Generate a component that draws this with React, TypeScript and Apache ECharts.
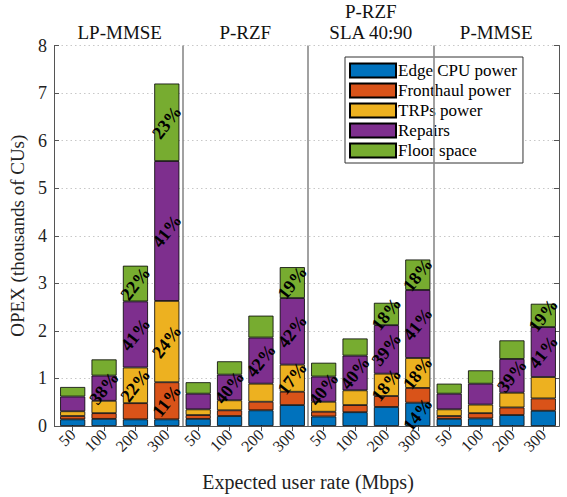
import React, { useEffect, useRef } from "react";
import * as echarts from "echarts";

// Precoding schemes (one group of four bars each) and user rates
const schemes = ["LP-MMSE", "P-RZF", "P-RZF\nSLA 40:90", "P-MMSE"];
const rates = ["50", "100", "200", "300"];

// OPEX components in thousands of CUs, 16 bars: scheme-major, rate-minor
const edgeCpu = [0.14, 0.15, 0.14, 0.14, 0.15, 0.21, 0.33, 0.44, 0.2, 0.29, 0.4, 0.49, 0.15, 0.16, 0.23, 0.32];
const fronthaul = [0.07, 0.12, 0.34, 0.78, 0.08, 0.12, 0.18, 0.28, 0.1, 0.15, 0.23, 0.31, 0.06, 0.11, 0.16, 0.26];
const trps = [0.1, 0.26, 0.75, 1.71, 0.12, 0.21, 0.38, 0.57, 0.21, 0.31, 0.47, 0.63, 0.14, 0.18, 0.31, 0.45];
const repairs = [0.31, 0.53, 1.39, 2.94, 0.33, 0.54, 0.97, 1.4, 0.53, 0.73, 1.02, 1.43, 0.33, 0.44, 0.71, 1.05];
const floorSpace = [0.2, 0.34, 0.75, 1.63, 0.24, 0.28, 0.46, 0.65, 0.29, 0.36, 0.47, 0.64, 0.21, 0.28, 0.39, 0.49];

const yTicks = [0, 1, 2, 3, 4, 5, 6, 7, 8];

const components = [
  { name: "Edge CPU power", data: edgeCpu, color: "#0072BD" },
  { name: "Fronthaul power", data: fronthaul, color: "#D95319" },
  { name: "TRPs power", data: trps, color: "#EDB120" },
  { name: "Repairs", data: repairs, color: "#7E2F8E" },
  { name: "Floor space", data: floorSpace, color: "#77AC30" },
];

// segments at least this tall get their share printed on them
const LABEL_MIN = 0.47;

const FONT = "Times New Roman, Liberation Serif, DejaVu Serif, serif";
const AXIS_COLOR = "#555555";

export default function App() {
  const ref = useRef<HTMLDivElement>(null);

  useEffect(() => {
    if (!ref.current) return;
    const chart = echarts.init(ref.current, null, { renderer: "svg" });

    const nBars = schemes.length * rates.length;
    const barIdx = Array.from({ length: nBars }, (_, i) => i);
    const categories = barIdx.map((i) => rates[i % rates.length]);
    const totals = barIdx.map((i) => components.reduce((s, c) => s + c.data[i], 0));
    // positions on the top (continuous) axis: bar i sits at i + 1
    const topTicks = barIdx.map((i) => i + 1);
    const groupCenters = schemes.map((_, g) => g * rates.length + (rates.length + 1) / 2);
    const separators = schemes.slice(1).map((_, g) => (g + 1) * rates.length + 0.5);

    const series: any[] = components.map((c) => ({
      name: c.name,
      type: "bar",
      stack: "opex",
      xAxisIndex: 0,
      yAxisIndex: 0,
      barWidth: "80%",
      itemStyle: { color: c.color, borderColor: "#000", borderWidth: 0.8 },
      label: {
        show: false,
        position: "inside",
        rotate: 52,
        color: "#000",
        fontFamily: FONT,
        fontWeight: "bold",
        fontSize: 18,
        formatter: (p: any) => Math.round((p.value / totals[p.dataIndex]) * 100) + "%",
      },
      data: c.data.map((v) => ({ value: v, label: { show: v >= LABEL_MIN } })),
    }));

    // group separators, drawn against the continuous top axis
    series.push({
      type: "line",
      xAxisIndex: 1,
      yAxisIndex: 0,
      data: [],
      silent: true,
      markLine: {
        silent: true,
        symbol: "none",
        label: { show: false },
        lineStyle: { color: "#8a8a8a", width: 1.6, type: "solid" },
        data: separators.map((x) => ({ xAxis: x })),
      },
    });

    const option: any = {
      animation: false,
      backgroundColor: "#fff",
      textStyle: { fontFamily: FONT },
      grid: { left: 57, right: 8, top: 45.5, bottom: 70, containLabel: false },
      legend: {
        orient: "vertical",
        left: 345,
        top: 57,
        icon: "rect",
        itemWidth: 46,
        itemHeight: 14,
        itemGap: 3,
        padding: [5, 6, 4, 4],
        backgroundColor: "#fff",
        borderColor: "#333",
        borderWidth: 1,
        borderRadius: 0,
        textStyle: {
          fontFamily: FONT,
          fontSize: 17,
          color: "#000",
          padding: [0, 0, 0, -3],
        },
        data: components.map((c) => c.name),
      },
      xAxis: [
        {
          type: "category",
          position: "bottom",
          data: categories,
          name: "Expected user rate (Mbps)",
          nameLocation: "middle",
          nameGap: 46,
          nameTextStyle: { fontFamily: FONT, fontSize: 20, color: "#222" },
          axisLine: { show: true, lineStyle: { color: AXIS_COLOR, width: 1 } },
          axisTick: {
            show: true,
            inside: true,
            length: 5,
            alignWithLabel: true,
            lineStyle: { color: AXIS_COLOR },
          },
          axisLabel: {
            show: true,
            interval: 0,
            rotate: 45,
            margin: 6,
            fontFamily: FONT,
            fontSize: 16,
            color: "#222",
          },
          splitLine: { show: false },
        },
        {
          type: "value",
          position: "top",
          min: 0.5,
          max: nBars + 0.5,
          axisLine: { show: true, lineStyle: { color: AXIS_COLOR, width: 1 } },
          axisTick: {
            show: true,
            inside: true,
            length: 5,
            customValues: topTicks,
            lineStyle: { color: AXIS_COLOR },
          },
          axisLabel: {
            show: true,
            customValues: groupCenters,
            margin: 3,
            fontFamily: FONT,
            fontSize: 19,
            lineHeight: 21,
            color: "#111",
            formatter: (v: number) =>
              schemes[Math.round((v - (rates.length + 1) / 2) / rates.length)],
          },
          splitLine: { show: false },
        },
      ],
      yAxis: [
        {
          type: "value",
          min: yTicks[0],
          max: yTicks[yTicks.length - 1],
          interval: 1,
          offset: 3,
          name: "OPEX (thousands of CUs)",
          nameLocation: "middle",
          nameGap: 24,
          nameTextStyle: { fontFamily: FONT, fontSize: 19, color: "#222" },
          axisLine: { show: true, lineStyle: { color: AXIS_COLOR, width: 1 } },
          axisTick: { show: true, inside: true, length: 5, lineStyle: { color: AXIS_COLOR } },
          axisLabel: { fontFamily: FONT, fontSize: 18, color: "#222", margin: 7 },
          splitLine: {
            show: true,
            lineStyle: { color: "#c8c8c8", type: [1.5, 3], width: 1 },
          },
        },
        {
          type: "value",
          position: "right",
          min: yTicks[0],
          max: yTicks[yTicks.length - 1],
          interval: 1,
          axisLine: { show: true, lineStyle: { color: AXIS_COLOR, width: 1 } },
          axisTick: { show: true, inside: true, length: 5, lineStyle: { color: AXIS_COLOR } },
          axisLabel: { show: false },
          splitLine: { show: false },
        },
      ],
      series,
    };

    chart.setOption(option);
    return () => chart.dispose();
  }, []);

  return (
    <div
      ref={ref}
      style={{ position: "absolute", left: 0, top: 0, width: 567, height: 497 }}
    />
  );
}
